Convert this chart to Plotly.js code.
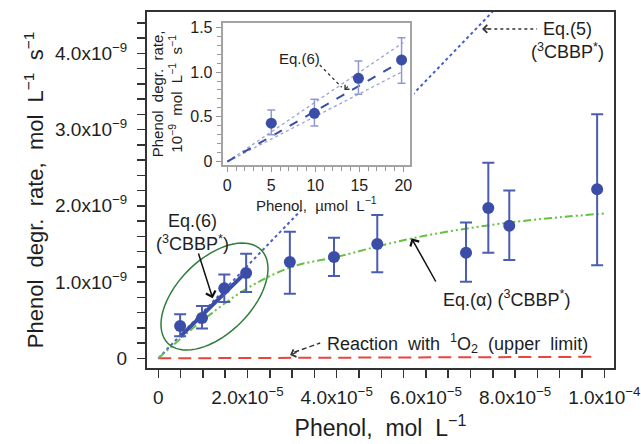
<!DOCTYPE html>
<html><head><meta charset="utf-8">
<script src="https://cdn.plot.ly/plotly-3.0.1.min.js"></script>
<style>html,body{margin:0;padding:0;background:#fff}#chart{width:641px;height:444px}</style>
</head><body><div id="chart"></div>
<script>
// ---- main plot data (phenol in mol/L, rate in mol/L/s) ----
var phenol = [0.49e-5, 0.98e-5, 1.48e-5, 1.97e-5, 2.95e-5, 3.94e-5, 4.91e-5, 6.9e-5, 7.4e-5, 7.87e-5, 9.84e-5];
var rate   = [0.424e-9, 0.53e-9, 0.92e-9, 1.12e-9, 1.263e-9, 1.33e-9, 1.50e-9, 1.385e-9, 1.97e-9, 1.74e-9, 2.216e-9];
var rateTop    = [0.577e-9, 0.686e-9, 1.10e-9, 1.37e-9, 1.66e-9, 1.58e-9, 1.88e-9, 1.78e-9, 2.565e-9, 2.20e-9, 3.20e-9];
var rateBottom = [0.29e-9, 0.39e-9, 0.74e-9, 0.87e-9, 0.847e-9, 1.08e-9, 1.13e-9, 1.005e-9, 1.385e-9, 1.29e-9, 1.22e-9];

// Eq.(6) fitted segment
var eq6X = [0.49e-5, 1.97e-5];
var eq6Y = [0.285e-9, 1.13e-9];
// Eq.(5) dotted line
var eq5X = [0, 7.6e-5];
var eq5Y = [0, 4.61e-9];
// Eq.(alpha) curve, points
var alphaX = [0, 1e-5, 2e-5, 3e-5, 4e-5, 5e-5, 6e-5, 7e-5, 8e-5, 9e-5, 10e-5];
var alphaY = [0, 0.50e-9, 0.92e-9, 1.20e-9, 1.33e-9, 1.48e-9, 1.61e-9, 1.71e-9, 1.79e-9, 1.85e-9, 1.90e-9];
// singlet oxygen upper limit
var o2X = [0, 9.86e-5];
var o2Y = [0, 0.02e-9];

// ---- inset data (phenol in umol/L, rate in 1e-9 mol/L/s) ----
var insetX = [5, 9.9, 14.9, 19.8];
var insetY = [0.43, 0.54, 0.93, 1.135];
var insetTop = [0.577, 0.696, 1.124, 1.384];
var insetBottom = [0.30, 0.398, 0.752, 0.875];
var insetFitX = [0, 20];
var insetFitY = [0, 1.13];
var insetUpperY = [0, 1.33];
var insetLowerY = [0, 1.01];

// tick labels
var xTickVals = [0, 2e-5, 4e-5, 6e-5, 8e-5, 1e-4];
var xTickText = ['0', '2.0x10<sup>\u22125</sup>', '4.0x10<sup>\u22125</sup>', '6.0x10<sup>\u22125</sup>', '8.0x10<sup>\u22125</sup>', '1.0x10<sup>\u22124</sup>'];
var yTickVals = [0, 1e-9, 2e-9, 3e-9, 4e-9];
var yTickText = ['0', '1.0x10<sup>\u22129</sup>', '2.0x10<sup>\u22129</sup>', '3.0x10<sup>\u22129</sup>', '4.0x10<sup>\u22129</sup>'];
var insetXTicks = [0, 5, 10, 15, 20];
var insetYTicks = [0, 0.5, 1.0, 1.5];
var insetYText = ['0', '0.5', '1.0', '1.5'];

var BLUE = '#3a4ea8';
var FONT = 'Liberation Sans, Arial, sans-serif';
var INK = '#1e1e1e';

function diff(a, b) { return a.map(function (v, i) { return Math.abs(v - b[i]); }); }
function wide(s) { return s.replace(/ /g, '\u00a0\u00a0'); }   // the reference uses wide word gaps
var sup = function (s) { return '<sup>' + s + '</sup>'; };

var W = 641, H = 444;
var M = {l: 147, r: 27, t: 12, b: 76};
var xRange = [-2.53e-6, 1.0218e-4];
var yRange = [-0.127e-9, 4.542e-9];

// ellipse (pixel-equivalent semi axes, rotated 45 deg on screen)
var pw = W - M.l - M.r, ph = H - M.t - M.b;
var sx = pw / (xRange[1] - xRange[0]);
var sy = ph / (yRange[1] - yRange[0]);
var ec = [1.26e-5, 0.81e-9], ea = 66, eb = 37;
var path = '';
for (var k = 0; k <= 72; k++) {
  var t = 2 * Math.PI * k / 72;
  var u = ea * Math.cos(t), v = eb * Math.sin(t);
  var dx = (u - v) * Math.SQRT1_2;
  var dy = (u + v) * Math.SQRT1_2;
  path += (k === 0 ? 'M' : 'L') + (ec[0] + dx / sx) + ',' + (ec[1] + dy / sy) + ' ';
}
path += 'Z';

var traces = [
  {x: o2X, y: o2Y, mode: 'lines', line: {color: '#e8453c', width: 2, dash: '13px,7px'}, xaxis: 'x', yaxis: 'y'},
  {x: eq5X, y: eq5Y, mode: 'lines', line: {color: '#4a5fc4', width: 2, dash: 'dot'}, xaxis: 'x', yaxis: 'y'},
  {x: alphaX, y: alphaY, mode: 'lines', line: {color: '#66c040', width: 2, shape: 'spline', dash: '8px,3px,2px,3px,2px,3px'}, xaxis: 'x', yaxis: 'y'},
  {x: eq6X, y: eq6Y, mode: 'lines', line: {color: BLUE, width: 4}, xaxis: 'x', yaxis: 'y'},
  {x: phenol, y: rate, mode: 'markers', marker: {color: BLUE, size: 12},
   error_y: {type: 'data', symmetric: false, array: diff(rateTop, rate), arrayminus: diff(rate, rateBottom), color: '#4a5db0', thickness: 2, width: 6},
   xaxis: 'x', yaxis: 'y'},
  // white backing box of the inset (covers its labels too)
  {x: [], y: [], mode: 'markers', xaxis: 'x2', yaxis: 'y2'},
  // inset
  {x: insetFitX, y: insetUpperY, mode: 'lines', line: {color: '#9aa3d2', width: 1.3, dash: 'dot'}, xaxis: 'x3', yaxis: 'y3'},
  {x: insetFitX, y: insetLowerY, mode: 'lines', line: {color: '#9aa3d2', width: 1.3, dash: 'dot'}, xaxis: 'x3', yaxis: 'y3'},
  {x: insetFitX, y: insetFitY, mode: 'lines', line: {color: BLUE, width: 2, dash: 'dash'}, xaxis: 'x3', yaxis: 'y3'},
  {x: insetX, y: insetY, mode: 'markers', marker: {color: BLUE, size: 11},
   error_y: {type: 'data', symmetric: false, array: diff(insetTop, insetY), arrayminus: diff(insetY, insetBottom), color: '#8f9bd0', thickness: 1.5, width: 4},
   xaxis: 'x3', yaxis: 'y3'}
];

var annFont = {family: FONT, size: 18, color: INK};

var layout = {
  width: W, height: H, margin: M, showlegend: false,
  paper_bgcolor: '#fff', plot_bgcolor: '#fff',
  font: {family: FONT, color: INK},
  xaxis: {range: xRange, domain: [0, 1], anchor: 'y', showgrid: false, zeroline: false,
    showline: true, mirror: true, linecolor: '#333', linewidth: 2,
    ticks: 'outside', ticklen: 8, tickwidth: 1.5, tickcolor: '#333', ticklabelstandoff: 3,
    tickmode: 'array', tickvals: xTickVals, ticktext: xTickText,
    minor: {tickmode: 'linear', tick0: 0, dtick: 5e-6, ticks: 'outside', ticklen: 8, tickwidth: 1.5, tickcolor: '#333'},
    tickfont: {family: FONT, size: 19, color: INK},
    title: {text: wide('Phenol, mol L') + sup('\u22121'), font: {family: FONT, size: 23, color: INK}, standoff: 13}},
  yaxis: {range: yRange, domain: [0, 1], anchor: 'x', showgrid: false, zeroline: false,
    showline: true, mirror: true, linecolor: '#333', linewidth: 2,
    ticks: 'outside', ticklen: 8, tickwidth: 1.5, tickcolor: '#333', ticklabelstandoff: 6,
    tickmode: 'array', tickvals: yTickVals, ticktext: yTickText,
    minor: {tickmode: 'linear', tick0: 0, dtick: 2e-10, ticks: 'outside', ticklen: 8, tickwidth: 1.5, tickcolor: '#333'},
    tickfont: {family: FONT, size: 19, color: INK},
    title: {text: wide('Phenol degr. rate, mol L') + sup('\u22121') + '\u00a0\u00a0s' + sup('\u22121'), font: {family: FONT, size: 22, color: INK}, standoff: 5}},
  xaxis2: {visible: false, range: [0, 1], domain: [0.0064, 0.5717], anchor: 'y2', fixedrange: true},
  yaxis2: {visible: false, range: [0, 1], domain: [0.4438, 0.9916], anchor: 'x2', fixedrange: true},
  xaxis3: {range: [-0.52, 20.76], domain: [0.1621, 0.5632], anchor: 'y3', showgrid: false, zeroline: false,
    showline: true, mirror: true, linecolor: '#a3a3a3', linewidth: 2,
    ticks: 'outside', ticklen: 5, tickwidth: 1, tickcolor: '#999',
    tickmode: 'array', tickvals: insetXTicks,
    minor: {tickmode: 'linear', tick0: 0, dtick: 1, ticks: 'outside', ticklen: 4, tickcolor: '#999'},
    tickfont: {family: FONT, size: 16, color: INK},
    title: {text: wide('Phenol, \u00b5mol L') + sup('\u22121'), font: {family: FONT, size: 15, color: INK}, standoff: 3}},
  yaxis3: {range: [-0.037, 1.551], domain: [0.5702, 0.970], anchor: 'x3', showgrid: false, zeroline: false,
    showline: true, mirror: true, linecolor: '#a3a3a3', linewidth: 2,
    ticks: 'outside', ticklen: 5, tickwidth: 1, tickcolor: '#999',
    tickmode: 'array', tickvals: insetYTicks, ticktext: insetYText,
    minor: {tickmode: 'linear', tick0: 0, dtick: 0.1, ticks: 'outside', ticklen: 4, tickcolor: '#999'},
    tickfont: {family: FONT, size: 16, color: INK},
    title: {text: wide('Phenol degr. rate,') + '<br>10' + sup('\u22129') + wide(' mol L') + sup('\u22121') + '\u00a0\u00a0s' + sup('\u22121'), font: {family: FONT, size: 15, color: INK}, standoff: 4}},
  shapes: [
    {type: 'path', xref: 'x', yref: 'y', path: path, line: {color: '#2f7f3a', width: 1.5}, fillcolor: 'rgba(0,0,0,0)'},
    {type: 'line', xref: 'x', yref: 'y', x0: 7.4e-5, y0: 4.32e-9, x1: 8.49e-5, y1: 4.32e-9, line: {color: '#333', width: 1.5, dash: 'dot'}},
    {type: 'line', xref: 'x', yref: 'y', x0: 3.05e-5, y0: 0.08e-9, x1: 3.63e-5, y1: 0.201e-9, line: {color: '#333', width: 1.5, dash: '5px,3px'}},
    {type: 'line', xref: 'x3', yref: 'y3', x0: 10.5, y0: 1.08, x1: 13.0, y1: 0.83, line: {color: '#333', width: 1.3, dash: 'dot'}}
  ],
  annotations: [
    {x: 9.185e-5, y: 4.168e-9, xref: 'x', yref: 'y', text: 'Eq.(5)<br>(' + sup('3') + 'CBBP' + sup('*') + ')', showarrow: false, font: annFont, align: 'center'},
    {x: 7.258e-5, y: 4.32e-9, xref: 'x', yref: 'y', text: '', showarrow: true, arrowhead: 4, arrowsize: 1.3, arrowwidth: 1.2, arrowcolor: '#333', ax: 9, ay: 0},
    {x: 0.778e-5, y: 1.65e-9, xref: 'x', yref: 'y', text: 'Eq.(6)<br>(' + sup('3') + 'CBBP' + sup('*') + ')', showarrow: false, font: annFont, align: 'center'},
    {x: 1.22e-5, y: 0.787e-9, xref: 'x', yref: 'y', text: '', showarrow: true, arrowhead: 4, arrowsize: 1.3, arrowwidth: 1.5, arrowcolor: '#111', ax: -14.7, ay: -46.3},
    {x: 7.81e-5, y: 0.787e-9, xref: 'x', yref: 'y', text: 'Eq.(\u03b1) (' + sup('3') + 'CBBP' + sup('*') + ')', showarrow: false, font: annFont},
    {x: 5.68e-5, y: 1.574e-9, xref: 'x', yref: 'y', text: '', showarrow: true, arrowhead: 4, arrowsize: 1.3, arrowwidth: 1.5, arrowcolor: '#111', ax: 25, ay: 44.7},
    {x: 6.72e-5, y: 0.188e-9, xref: 'x', yref: 'y', text: wide('Reaction with ') + sup('1') + 'O<sub>2</sub>' + wide(' (upper limit)'), showarrow: false, font: annFont},
    {x: 2.955e-5, y: 0.043e-9, xref: 'x', yref: 'y', text: '', showarrow: true, arrowhead: 4, arrowsize: 1.3, arrowwidth: 1.2, arrowcolor: '#333', ax: 8, ay: -3.2},
    {x: 8.26, y: 1.146, xref: 'x3', yref: 'y3', text: 'Eq.(6)', showarrow: false, font: {family: FONT, size: 15, color: INK}},
    {x: 13.3, y: 0.80, xref: 'x3', yref: 'y3', text: '', showarrow: true, arrowhead: 4, arrowsize: 1.1, arrowwidth: 1.1, arrowcolor: '#333', ax: 5, ay: -5}
  ]
};

Plotly.newPlot('chart', traces, layout, {staticPlot: true, displayModeBar: false});
</script>
</body></html>
